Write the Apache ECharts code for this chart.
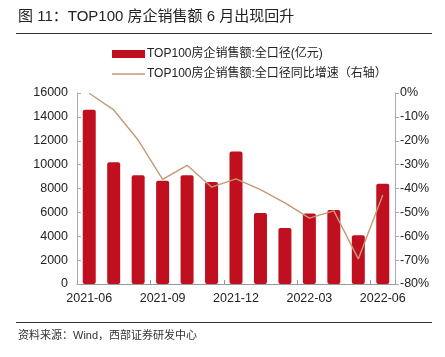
<!DOCTYPE html>
<html><head><meta charset="utf-8">
<script src="https://cdn.jsdelivr.net/npm/echarts@6/dist/echarts.min.js"></script>
<style>html,body{margin:0;padding:0;background:#fff}#c{width:445px;height:357px}</style>
</head><body><div id="c"></div>
<script>
const categories = ['2021-06','2021-07','2021-08','2021-09','2021-10','2021-11','2021-12','2022-01','2022-02','2022-03','2022-04','2022-05','2022-06'];
const salesValues = [14600, 10200, 9100, 8650, 9100, 8550, 11100, 5950, 4700, 5900, 6200, 4080, 8400];
const yoyValues = [-0.1, -7.1, -19.7, -36.2, -30.3, -39.4, -36.0, -40.5, -46.0, -52.4, -49.4, -69.5, -42.7];
const leftTicks = [0, 2000, 4000, 6000, 8000, 10000, 12000, 14000, 16000];
const rightTicks = [-80, -70, -60, -50, -40, -30, -20, -10, 0];
const barName = 'TOP100房企销售额:全口径(亿元)';
const lineName = 'TOP100房企销售额:全口径同比增速（右轴）';
const titleText = '图 11：TOP100 房企销售额 6 月出现回升';
const sourceText = '资料来源：Wind，西部证券研发中心';

const chart = echarts.init(document.getElementById('c'), null, {renderer:'canvas'});
const cjk = '"Liberation Sans", "Noto Sans CJK SC", sans-serif';
chart.setOption({
  animation: false,
  backgroundColor: '#fff',
  textStyle: {fontFamily: cjk},
  graphic: [
    {type:'text', left:18, top:9, style:{text:titleText, font:'15px ' + cjk, fill:'#222'}},
    {type:'line', shape:{x1:16, y1:33.5, x2:432, y2:33.5}, style:{stroke:'#333', lineWidth:1}},
    {type:'line', shape:{x1:16, y1:322.5, x2:432, y2:322.5}, style:{stroke:'#333', lineWidth:1}},
    {type:'text', left:18, top:330, style:{text:sourceText, font:'11px ' + cjk, fill:'#333'}}
  ],
  legend: {
    orient: 'vertical', left: 107, top: 43, itemGap: 8,
    itemWidth: 33, itemHeight: 8,
    textStyle: {fontSize: 12, color: '#222', fontFamily: cjk, padding:[0,0,0,-3]},
    data: [{name: barName, icon: 'rect'},
           {name: lineName, icon: 'path://M0,0H30V1.4H0Z', itemStyle: {color: '#C49A74'}}]
  },
  grid: {left: 77, right: 50, top: 93, bottom: 73, containLabel: false},
  xAxis: {
    type: 'category', data: categories,
    axisLine: {lineStyle: {color: '#999'}},
    axisTick: {show: true, interval: 2, length: 4, inside: true, lineStyle:{color:'#999'}},
    axisLabel: {interval: 2, fontSize: 12.5, color: '#222', margin: 8}
  },
  yAxis: [
    {type: 'value', min: leftTicks[0], max: leftTicks[leftTicks.length-1], interval: 2000,
     splitLine: {show: false},
     axisLine: {show: true, lineStyle: {color: '#aaa'}},
     axisTick: {show: true, inside: true, length: 4, lineStyle: {color: '#aaa'}},
     axisLabel: {fontSize: 12.5, color: '#222', margin: 9, formatter: v => String(v)}},
    {type: 'value', min: rightTicks[0], max: rightTicks[rightTicks.length-1], interval: 10,
     position: 'right',
     splitLine: {show: false},
     axisLine: {show: true, lineStyle: {color: '#aaa'}},
     axisTick: {show: true, inside: false, length: 4, lineStyle: {color: '#aaa'}},
     axisLabel: {fontSize: 12.5, color: '#222', margin: 5, formatter: v => v + '%'}}
  ],
  series: [
    {name: barName, type: 'bar', data: salesValues, yAxisIndex: 0, barWidth: 13,
     itemStyle: {color: '#C0101F', borderRadius: 2}},
    {name: lineName, type: 'line', data: yoyValues, yAxisIndex: 1, symbol: 'none',
     lineStyle: {color: '#C49A74', width: 1.4}, itemStyle: {color: '#C49A74'}}
  ]
});
</script></body></html>
